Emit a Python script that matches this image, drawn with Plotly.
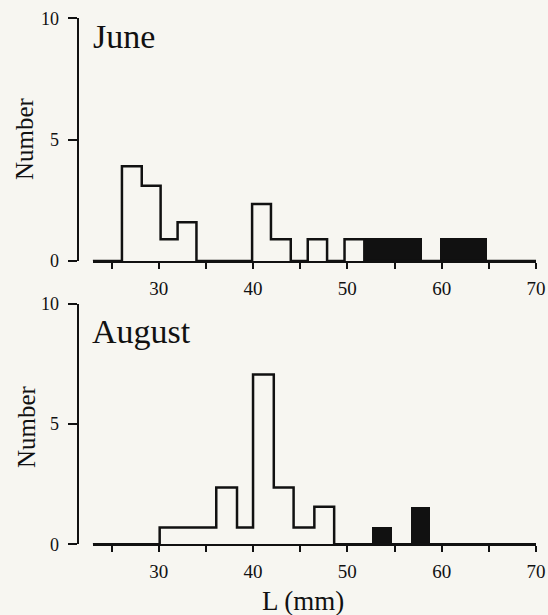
import plotly.graph_objects as go

# ---------------- data ----------------
# June: open (white) histogram as step outline: bin edges and heights
june_edges = [23, 26.1, 28.2, 30.2, 32.0, 34.0, 39.9, 41.9, 44.0, 45.8, 47.85, 49.7, 51.8, 70]
june_counts = [0, 3.9, 3.1, 0.9, 1.6, 0, 2.35, 0.9, 0, 0.9, 0, 0.9, 0]
# June: filled (black) bins
june_black_left = [51.8, 59.8]
june_black_right = [57.9, 64.8]
june_black_counts = [0.92, 0.92]

# August: open histogram
aug_edges = [23, 30.1, 36.1, 38.3, 40.0, 42.2, 44.3, 46.5, 48.6, 70]
aug_counts = [0, 0.7, 2.36, 0.7, 7.07, 2.36, 0.7, 1.56, 0]
# August: filled bins
aug_black_left = [52.6, 56.75]
aug_black_right = [54.7, 58.75]
aug_black_counts = [0.71, 1.56]

x_tickvals = [25, 30, 35, 40, 45, 50, 55, 60, 65, 70]
x_ticktext = ["", "30", "", "40", "", "50", "", "60", "", "70"]
y_tickvals = [0, 5, 10]
y_ticktext = ["0", "5", "10"]
panel_titles = ["June", "August"]

# ---------------- styling ----------------
W, H = 548, 615
BG = "#f7f6f1"
INK = "#111111"
FONT = "Liberation Serif"


def px_x(p):
    return p / W


def px_y(p):
    return 1 - p / H


fig = go.Figure()

panels = [
    (june_edges, june_counts, june_black_left, june_black_right, june_black_counts, "x", "y"),
    (aug_edges, aug_counts, aug_black_left, aug_black_right, aug_black_counts, "x2", "y2"),
]

for edges, counts, bl, br, bc, xa, ya in panels:
    centers = [(l + r) / 2 for l, r in zip(bl, br)]
    widths = [r - l for l, r in zip(bl, br)]
    fig.add_trace(go.Bar(
        x=centers, y=bc, width=widths, base=0,
        marker=dict(color=INK, line=dict(width=0)),
        xaxis=xa, yaxis=ya, showlegend=False, hoverinfo="skip",
    ))
    fig.add_trace(go.Scatter(
        x=edges, y=counts + [counts[-1]], mode="lines",
        line=dict(color=INK, width=2.5, shape="hv"),
        xaxis=xa, yaxis=ya, showlegend=False, cliponaxis=False, hoverinfo="skip",
    ))

x_dom = [px_x(92.7), px_x(536)]
top_dom = [px_y(261), px_y(18.3)]
bot_dom = [px_y(544.3), px_y(304)]
yaxis_pos = px_x(77.5)

xcommon = dict(
    range=[23, 70], domain=x_dom, showline=True, linewidth=2, linecolor=INK,
    ticks="outside", ticklen=6, tickwidth=1.5, tickcolor=INK,
    tickvals=x_tickvals, ticktext=x_ticktext, ticklabelstandoff=3,
    tickfont=dict(family=FONT, size=19, color=INK),
    showgrid=False, zeroline=False, automargin=False, fixedrange=True,
)
ycommon = dict(
    range=[0, 10], anchor="free", position=yaxis_pos, showline=True, linewidth=2,
    linecolor=INK, ticks="outside", ticklen=9, tickwidth=1.5, tickcolor=INK,
    tickvals=y_tickvals, ticktext=y_ticktext, ticklabelstandoff=5,
    tickfont=dict(family=FONT, size=18, color=INK),
    showgrid=False, zeroline=False, automargin=False, fixedrange=True,
)

fig.update_layout(
    width=W, height=H,
    margin=dict(l=0, r=0, t=0, b=0),
    paper_bgcolor=BG, plot_bgcolor=BG,
    template="none",
    bargap=0,
    xaxis=dict(anchor="y", **xcommon),
    yaxis=dict(domain=top_dom, **ycommon),
    xaxis2=dict(anchor="y2", **xcommon),
    yaxis2=dict(domain=bot_dom, **ycommon),
    annotations=[
        dict(text=panel_titles[0], x=px_x(91), y=px_y(36), xref="paper", yref="paper",
             xanchor="left", yanchor="middle", showarrow=False,
             font=dict(family=FONT, size=34, color=INK)),
        dict(text=panel_titles[1], x=px_x(90), y=px_y(331), xref="paper", yref="paper",
             xanchor="left", yanchor="middle", showarrow=False,
             font=dict(family=FONT, size=34, color=INK)),
        dict(text="Number", x=px_x(24), y=px_y(139), xref="paper", yref="paper",
             xanchor="center", yanchor="middle", textangle=-90, showarrow=False,
             font=dict(family=FONT, size=25, color=INK)),
        dict(text="Number", x=px_x(26), y=px_y(427), xref="paper", yref="paper",
             xanchor="center", yanchor="middle", textangle=-90, showarrow=False,
             font=dict(family=FONT, size=25, color=INK)),
        dict(text="L (mm)", x=px_x(302.5), y=px_y(601), xref="paper", yref="paper",
             xanchor="center", yanchor="middle", showarrow=False,
             font=dict(family=FONT, size=27, color=INK)),
    ],
)

fig.write_html(
    "out.html",
    config={"displayModeBar": False},
    post_script="document.body.style.margin='0px';document.body.style.overflow='hidden';",
)
